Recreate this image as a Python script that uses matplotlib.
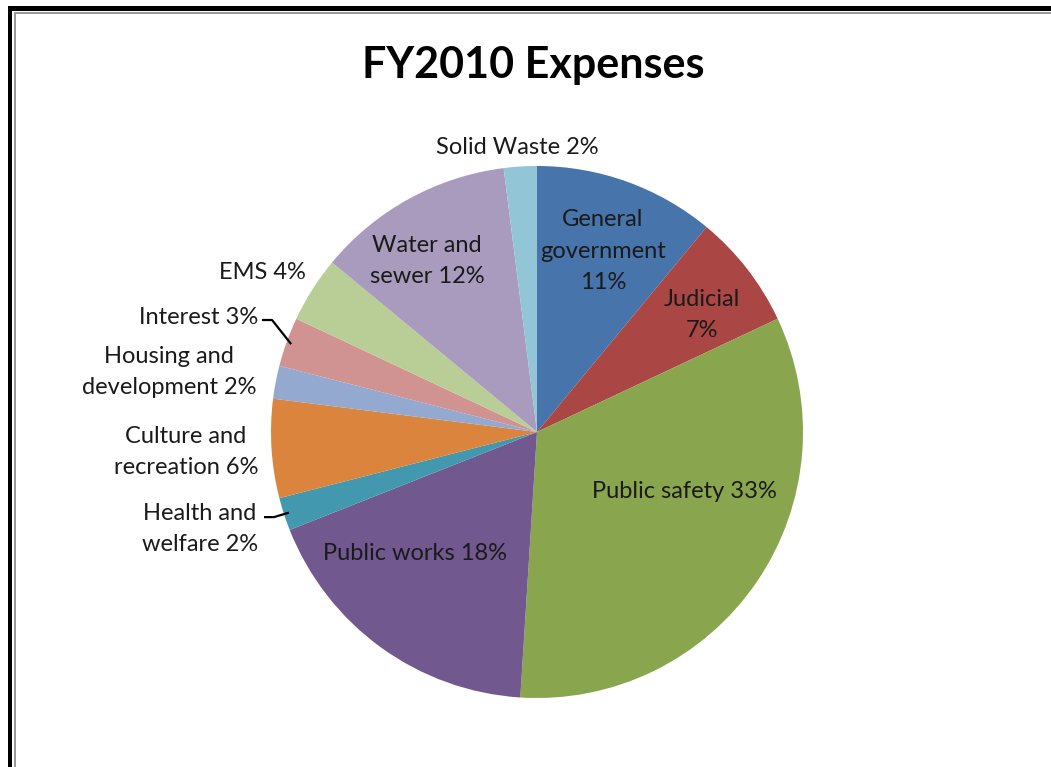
import numpy as np
import matplotlib
matplotlib.use("Agg")
import matplotlib.pyplot as plt
from matplotlib.patches import Rectangle

# data
categories = ["General government", "Judicial", "Public safety", "Public works",
              "Health and welfare", "Culture and recreation", "Housing and development",
              "Interest", "EMS", "Water and sewer", "Solid Waste"]
shares = [11, 7, 33, 18, 2, 6, 2, 3, 4, 12, 2]
label_texts = ["General\ngovernment\n11%", "Judicial\n7%", "Public safety 33%",
               "Public works 18%", "Health and\nwelfare 2%", "Culture and\nrecreation 6%",
               "Housing and\ndevelopment 2%", "Interest 3%", "EMS 4%",
               "Water and\nsewer 12%", "Solid Waste 2%"]

colors = ["#4674AB", "#AA4644", "#89A54E", "#71588F", "#4198AF", "#DB843D",
          "#93A9CF", "#D19392", "#B9CD96", "#A99BBD", "#92C6D6"]

# label centres (pie radius = 1)
label_pos = [(0.248, 0.680), (0.620, 0.440), (0.553, -0.222), (-0.459, -0.455),
             (-1.267, -0.365), (-1.320, -0.075), (-1.383, 0.226), (-1.271, 0.429),
             (-1.034, 0.601), (-0.414, 0.643), (-0.075, 1.068)]
leaders = {7: [(-1.030, 0.421), (-0.996, 0.421)], 4: [(-1.022, -0.320), (-0.989, -0.320)]}

plt.rcParams['font.family'] = ['Lato', 'DejaVu Sans']

W, H = 1051, 767
fig = plt.figure(figsize=(W / 100, H / 100), dpi=100)
ax = fig.add_axes([0, 0, 1, 1])

wedges, _ = ax.pie(shares, colors=colors, startangle=90, counterclock=False,
                   radius=1, wedgeprops=dict(linewidth=0))

cx, cy, scale = 537, 432, 266
ax.set_xlim(-cx / scale, (W - cx) / scale)
ax.set_ylim(-(H - cy) / scale, cy / scale)
ax.set_aspect("auto")
ax.axis("off")

for i, (txt, (x, y)) in enumerate(zip(label_texts, label_pos)):
    ax.text(x, y, txt, ha="center", va="center", fontsize=17,
            color="#1a1a1a", linespacing=1.62)

for i, pts in leaders.items():
    w = wedges[i]
    mid = np.deg2rad((w.theta1 + w.theta2) / 2)
    end = (0.985 * np.cos(mid), 0.985 * np.sin(mid))
    xs = [p[0] for p in pts] + [end[0]]
    ys = [p[1] for p in pts] + [end[1]]
    ax.plot(xs, ys, color="black", lw=1.6)

fig.text(533 / W, 1 - 65 / H, "FY2010 Expenses", ha="center", va="center",
         fontsize=31, fontweight="bold", color="black")

# frame lines at top and left
fig.patches.append(Rectangle((8 / W, 0), 4 / W, 1 - 6 / H, transform=fig.transFigure,
                             facecolor="black", edgecolor="none"))
fig.patches.append(Rectangle((8 / W, 1 - 11 / H), 1, 5 / H, transform=fig.transFigure,
                             facecolor="black", edgecolor="none"))
fig.patches.append(Rectangle((14 / W, 0), 2 / W, 1 - 12 / H, transform=fig.transFigure,
                             facecolor="#999999", edgecolor="none"))
fig.patches.append(Rectangle((14 / W, 1 - 14 / H), 1, 2 / H, transform=fig.transFigure,
                             facecolor="#999999", edgecolor="none"))

fig.savefig("out.png", dpi=100)
